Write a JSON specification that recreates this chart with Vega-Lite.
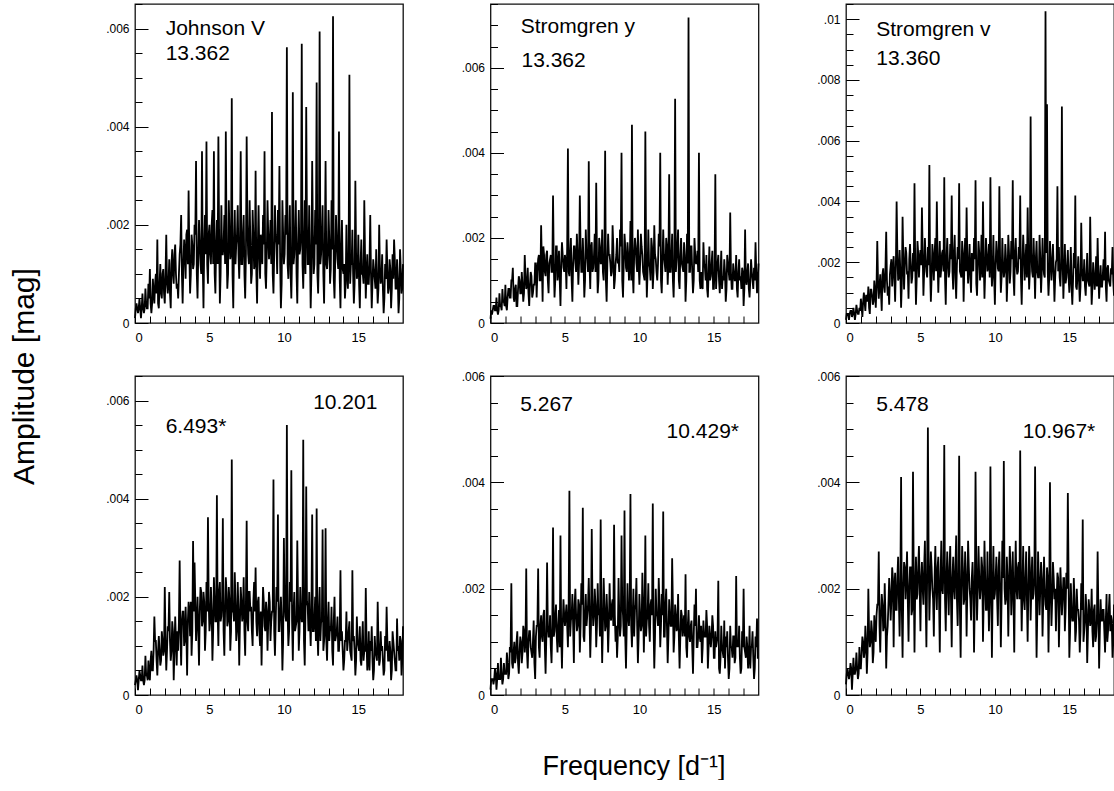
{
"$schema":"https://vega.github.io/schema/vega-lite/v6.json",
"padding":{"left":8,"top":2,"right":0,"bottom":0},
"config":{
 "font":"Liberation Sans",
 "view":{"stroke":"#111","strokeWidth":1.3},
 "axis":{"grid":false,"domain":false,"tickColor":"#000","tickWidth":1,"labelColor":"#000","labelFont":"Liberation Sans","titleFont":"Liberation Sans","titleFontWeight":"normal","titleColor":"#000"},
 "axisX":{"tickSize":-7,"labelPadding":15,"labelFontSize":13},
 "axisY":{"tickSize":-13,"labelPadding":19,"labelFontSize":12},
 "text":{"font":"Liberation Sans","fontSize":21,"color":"#000"},
 "line":{"color":"#000","strokeWidth":1.8,"clip":true}
},
"datasets":{"pg":[
{"f":0,"a1":0.0001,"a2":0.0001,"a3":0.0001,"b1":0.0002,"b2":0.0001,"b3":0.0002},
{"f":0.1,"a1":0.0004,"a2":0.0002,"a3":0.0003,"b1":0.0004,"b2":0.0003,"b3":0.0005},
{"f":0.2,"a1":0.0002,"a2":0.0004,"a3":0.0001,"b1":0.0001,"b2":0.0002,"b3":0.0003},
{"f":0.3,"a1":0.0005,"a2":0.0003,"a3":0.0004,"b1":0.0005,"b2":0.0005,"b3":0.0006},
{"f":0.4,"a1":0.0001,"a2":0.0006,"a3":0.0002,"b1":0.0003,"b2":0.0001,"b3":0.0001},
{"f":0.5,"a1":0.0006,"a2":0.0002,"a3":0.0005,"b1":0.0006,"b2":0.0006,"b3":0.0007},
{"f":0.6,"a1":0.0002,"a2":0.0007,"a3":0.0001,"b1":0.0002,"b2":0.0003,"b3":0.0004},
{"f":0.7,"a1":0.0007,"a2":0.0004,"a3":0.0006,"b1":0.0008,"b2":0.0007,"b3":0.0008},
{"f":0.8,"a1":0.0003,"a2":0.0008,"a3":0.0003,"b1":0.0004,"b2":0.0002,"b3":0.0003},
{"f":0.9,"a1":0.0008,"a2":0.0005,"a3":0.0005,"b1":0.0007,"b2":0.0006,"b3":0.0009},
{"f":1,"a1":0.0011,"a2":0.0009,"a3":0.0008,"b1":0.0003,"b2":0.0004,"b3":0.0005},
{"f":1.1,"a1":0.0002,"a2":0.0003,"a3":0.0002,"b1":0.0009,"b2":0.0008,"b3":0.0011},
{"f":1.2,"a1":0.0009,"a2":0.0008,"a3":0.001,"b1":0.0005,"b2":0.0003,"b3":0.0007},
{"f":1.3,"a1":0.0004,"a2":0.0006,"a3":0.0004,"b1":0.0016,"b2":0.0009,"b3":0.0013},
{"f":1.4,"a1":0.001,"a2":0.001,"a3":0.0009,"b1":0.0011,"b2":0.0021,"b3":0.0004},
{"f":1.5,"a1":0.0017,"a2":0.0013,"a3":0.0012,"b1":0.0004,"b2":0.0005,"b3":0.002},
{"f":1.6,"a1":0.0003,"a2":0.0005,"a3":0.0003,"b1":0.0012,"b2":0.001,"b3":0.0009},
{"f":1.7,"a1":0.0012,"a2":0.0009,"a3":0.0011,"b1":0.0006,"b2":0.0007,"b3":0.0014},
{"f":1.8,"a1":0.0005,"a2":0.0004,"a3":0.0006,"b1":0.0013,"b2":0.0012,"b3":0.0006},
{"f":1.9,"a1":0.0011,"a2":0.0011,"a3":0.0014,"b1":0.0008,"b2":0.0004,"b3":0.0015},
{"f":2,"a1":0.0004,"a2":0.0007,"a3":0.0005,"b1":0.0022,"b2":0.0011,"b3":0.001},
{"f":2.1,"a1":0.0018,"a2":0.0012,"a3":0.0027,"b1":0.0005,"b2":0.0006,"b3":0.0017},
{"f":2.2,"a1":0.0006,"a2":0.0005,"a3":0.0008,"b1":0.0014,"b2":0.0013,"b3":0.0027},
{"f":2.3,"a1":0.0013,"a2":0.0016,"a3":0.0016,"b1":0.0021,"b2":0.0008,"b3":0.0008},
{"f":2.4,"a1":0.0003,"a2":0.0008,"a3":0.0004,"b1":0.0007,"b2":0.00238,"b3":0.0019},
{"f":2.5,"a1":0.0015,"a2":0.0013,"a3":0.0018,"b1":0.0015,"b2":0.0005,"b3":0.0012},
{"f":2.6,"a1":0.0008,"a2":0.0004,"a3":0.001,"b1":0.0003,"b2":0.0012,"b3":0.0021},
{"f":2.7,"a1":0.0016,"a2":0.0012,"a3":0.003,"b1":0.0016,"b2":0.0009,"b3":0.0005},
{"f":2.8,"a1":0.0007,"a2":0.0006,"a3":0.0009,"b1":0.0006,"b2":0.0007,"b3":0.0013},
{"f":2.9,"a1":0.0005,"a2":0.0009,"a3":0.0006,"b1":0.0009,"b2":0.0014,"b3":0.0022},
{"f":3,"a1":0.0014,"a2":0.0014,"a3":0.0019,"b1":0.00274,"b2":0.0003,"b3":0.0014},
{"f":3.1,"a1":0.0022,"a2":0.0006,"a3":0.0012,"b1":0.0006,"b2":0.0013,"b3":0.0024},
{"f":3.2,"a1":0.0004,"a2":0.0015,"a3":0.0022,"b1":0.0017,"b2":0.00238,"b3":0.0009},
{"f":3.3,"a1":0.0017,"a2":0.001,"a3":0.0007,"b1":0.001,"b2":0.0007,"b3":0.0023},
{"f":3.4,"a1":0.0009,"a2":0.0023,"a3":0.004,"b1":0.0018,"b2":0.0015,"b3":0.0016},
{"f":3.5,"a1":0.0019,"a2":0.0005,"a3":0.0014,"b1":0.0004,"b2":0.001,"b3":0.0026},
{"f":3.6,"a1":0.0027,"a2":0.0016,"a3":0.0024,"b1":0.0019,"b2":0.0016,"b3":0.0011},
{"f":3.7,"a1":0.0006,"a2":0.0011,"a3":0.0005,"b1":0.0012,"b2":0.0004,"b3":0.0041},
{"f":3.8,"a1":0.0018,"a2":0.0017,"a3":0.0035,"b1":0.0008,"b2":0.00249,"b3":0.0007},
{"f":3.9,"a1":0.0011,"a2":0.0007,"a3":0.0011,"b1":0.00314,"b2":0.0011,"b3":0.0025},
{"f":4,"a1":0.002,"a2":0.0015,"a3":0.0025,"b1":0.0027,"b2":0.0015,"b3":0.0018},
{"f":4.1,"a1":0.0033,"a2":0.0012,"a3":0.0016,"b1":0.0011,"b2":0.0006,"b3":0.0027},
{"f":4.2,"a1":0.0005,"a2":0.003,"a3":0.0008,"b1":0.002,"b2":0.00315,"b3":0.001},
{"f":4.3,"a1":0.0021,"a2":0.0006,"a3":0.0026,"b1":0.0006,"b2":0.0012,"b3":0.0024},
{"f":4.4,"a1":0.0012,"a2":0.0018,"a3":0.0013,"b1":0.0022,"b2":0.0017,"b3":0.0015},
{"f":4.5,"a1":0.0035,"a2":0.001,"a3":0.0023,"b1":0.0014,"b2":0.0008,"b3":0.0042},
{"f":4.6,"a1":0.0003,"a2":0.0017,"a3":0.0046,"b1":0.0021,"b2":0.0016,"b3":0.0008},
{"f":4.7,"a1":0.0022,"a2":0.0004,"a3":0.0006,"b1":0.0009,"b2":0.003,"b3":0.0026},
{"f":4.8,"a1":0.0037,"a2":0.0019,"a3":0.0027,"b1":0.0023,"b2":0.0005,"b3":0.0019},
{"f":4.9,"a1":0.0008,"a2":0.0013,"a3":0.0015,"b1":0.00362,"b2":0.0018,"b3":0.0028},
{"f":5,"a1":0.002,"a2":0.0016,"a3":0.0024,"b1":0.0013,"b2":0.0013,"b3":0.0012},
{"f":5.1,"a1":0.0012,"a2":0.0008,"a3":0.0038,"b1":0.0022,"b2":0.0017,"b3":0.0025},
{"f":5.2,"a1":0.0023,"a2":0.0041,"a3":0.0009,"b1":0.0007,"b2":0.0009,"b3":0.0017},
{"f":5.3,"a1":0.0035,"a2":0.0011,"a3":0.0028,"b1":0.0024,"b2":0.00384,"b3":0.0029},
{"f":5.4,"a1":0.0006,"a2":0.002,"a3":0.0017,"b1":0.0015,"b2":0.0014,"b3":0.0009},
{"f":5.5,"a1":0.0021,"a2":0.0005,"a3":0.0025,"b1":0.00407,"b2":0.0019,"b3":0.00503},
{"f":5.6,"a1":0.0038,"a2":0.0018,"a3":0.0052,"b1":0.001,"b2":0.0006,"b3":0.0014},
{"f":5.7,"a1":0.0004,"a2":0.0014,"a3":0.0007,"b1":0.0023,"b2":0.002,"b3":0.0027},
{"f":5.8,"a1":0.0024,"a2":0.0021,"a3":0.0026,"b1":0.0016,"b2":0.0012,"b3":0.002},
{"f":5.9,"a1":0.0014,"a2":0.0009,"a3":0.0014,"b1":0.0036,"b2":0.0018,"b3":0.0011},
{"f":6,"a1":0.0022,"a2":0.003,"a3":0.0028,"b1":0.0008,"b2":0.0008,"b3":0.0028},
{"f":6.1,"a1":0.0039,"a2":0.0012,"a3":0.004,"b1":0.0024,"b2":0.0021,"b3":0.0016},
{"f":6.2,"a1":0.0007,"a2":0.002,"a3":0.001,"b1":0.0014,"b2":0.00352,"b3":0.0026},
{"f":6.3,"a1":0.0025,"a2":0.0006,"a3":0.0027,"b1":0.0022,"b2":0.001,"b3":0.0008},
{"f":6.4,"a1":0.0013,"a2":0.0022,"a3":0.0018,"b1":0.0009,"b2":0.0019,"b3":0.0029},
{"f":6.5,"a1":0.00458,"a2":0.0015,"a3":0.0024,"b1":0.0048,"b2":0.0015,"b3":0.0019},
{"f":6.6,"a1":0.0003,"a2":0.0038,"a3":0.0048,"b1":0.0017,"b2":0.0022,"b3":0.0047},
{"f":6.7,"a1":0.0023,"a2":0.0008,"a3":0.0006,"b1":0.0025,"b2":0.0007,"b3":0.0012},
{"f":6.8,"a1":0.0016,"a2":0.0019,"a3":0.0028,"b1":0.0011,"b2":0.00312,"b3":0.0027},
{"f":6.9,"a1":0.0024,"a2":0.0013,"a3":0.0015,"b1":0.0023,"b2":0.0013,"b3":0.0015},
{"f":7,"a1":0.0009,"a2":0.0021,"a3":0.0026,"b1":0.0006,"b2":0.002,"b3":0.0028},
{"f":7.1,"a1":0.0035,"a2":0.0033,"a3":0.0042,"b1":0.0022,"b2":0.0009,"b3":0.0009},
{"f":7.2,"a1":0.0012,"a2":0.0007,"a3":0.0011,"b1":0.0015,"b2":0.0021,"b3":0.0026},
{"f":7.3,"a1":0.0022,"a2":0.002,"a3":0.0029,"b1":0.0024,"b2":0.0016,"b3":0.0018},
{"f":7.4,"a1":0.0005,"a2":0.0014,"a3":0.0008,"b1":0.0008,"b2":0.0033,"b3":0.003},
{"f":7.5,"a1":0.0038,"a2":0.0022,"a3":0.0025,"b1":0.00355,"b2":0.0006,"b3":0.0013},
{"f":7.6,"a1":0.0014,"a2":0.001,"a3":0.0046,"b1":0.0013,"b2":0.0022,"b3":0.0045},
{"f":7.7,"a1":0.0025,"a2":0.00405,"a3":0.0016,"b1":0.0021,"b2":0.0012,"b3":0.0007},
{"f":7.8,"a1":0.0008,"a2":0.0005,"a3":0.0027,"b1":0.0018,"b2":0.0019,"b3":0.0028},
{"f":7.9,"a1":0.0023,"a2":0.0021,"a3":0.0007,"b1":0.001,"b2":0.0008,"b3":0.0017},
{"f":8,"a1":0.0011,"a2":0.0016,"a3":0.0028,"b1":0.0023,"b2":0.0021,"b3":0.0027},
{"f":8.1,"a1":0.0031,"a2":0.0011,"a3":0.0038,"b1":0.0026,"b2":0.0014,"b3":0.0011},
{"f":8.2,"a1":0.0004,"a2":0.0023,"a3":0.0013,"b1":0.0012,"b2":0.0018,"b3":0.0029},
{"f":8.3,"a1":0.0024,"a2":0.0008,"a3":0.0026,"b1":0.002,"b2":0.0032,"b3":0.002},
{"f":8.4,"a1":0.0009,"a2":0.0014,"a3":0.001,"b1":0.001,"b2":0.001,"b3":0.0014},
{"f":8.5,"a1":0.0015,"a2":0.002,"a3":0.0019,"b1":0.0006,"b2":0.0007,"b3":0.0025},
{"f":8.6,"a1":0.0022,"a2":0.0015,"a3":0.0028,"b1":0.0022,"b2":0.0022,"b3":0.0008},
{"f":8.7,"a1":0.0035,"a2":0.0022,"a3":0.0047,"b1":0.0014,"b2":0.0011,"b3":0.0042},
{"f":8.8,"a1":0.0007,"a2":0.004,"a3":0.0009,"b1":0.0019,"b2":0.003,"b3":0.0014},
{"f":8.9,"a1":0.0025,"a2":0.0006,"a3":0.0027,"b1":0.0009,"b2":0.0015,"b3":0.0028},
{"f":9,"a1":0.0013,"a2":0.0021,"a3":0.0014,"b1":0.0021,"b2":0.00347,"b3":0.0018},
{"f":9.1,"a1":0.0021,"a2":0.0013,"a3":0.0029,"b1":0.0011,"b2":0.0005,"b3":0.0026},
{"f":9.2,"a1":0.0043,"a2":0.0019,"a3":0.004,"b1":0.0017,"b2":0.0021,"b3":0.001},
{"f":9.3,"a1":0.0006,"a2":0.001,"a3":0.0008,"b1":0.00439,"b2":0.0013,"b3":0.0029},
{"f":9.4,"a1":0.0024,"a2":0.0024,"a3":0.0028,"b1":0.0008,"b2":0.00378,"b3":0.0016},
{"f":9.5,"a1":0.0016,"a2":0.00466,"a3":0.0017,"b1":0.0022,"b2":0.0009,"b3":0.0027},
{"f":9.6,"a1":0.0023,"a2":0.0007,"a3":0.0026,"b1":0.00368,"b2":0.002,"b3":0.0012},
{"f":9.7,"a1":0.0032,"a2":0.002,"a3":0.0048,"b1":0.0013,"b2":0.0016,"b3":0.0043},
{"f":9.8,"a1":0.0003,"a2":0.0014,"a3":0.0012,"b1":0.002,"b2":0.0022,"b3":0.0007},
{"f":9.9,"a1":0.0025,"a2":0.0022,"a3":0.0029,"b1":0.0005,"b2":0.0006,"b3":0.0028},
{"f":10,"a1":0.0012,"a2":0.0009,"a3":0.0006,"b1":0.0032,"b2":0.0019,"b3":0.0019},
{"f":10.1,"a1":0.0022,"a2":0.0021,"a3":0.0027,"b1":0.0016,"b2":0.0012,"b3":0.0026},
{"f":10.2,"a1":0.00562,"a2":0.0016,"a3":0.0018,"b1":0.0055,"b2":0.0023,"b3":0.0013},
{"f":10.3,"a1":0.0009,"a2":0.0011,"a3":0.0045,"b1":0.001,"b2":0.0008,"b3":0.0027},
{"f":10.4,"a1":0.0024,"a2":0.0045,"a3":0.001,"b1":0.0023,"b2":0.003,"b3":0.0009},
{"f":10.5,"a1":0.0005,"a2":0.0006,"a3":0.0028,"b1":0.00458,"b2":0.0014,"b3":0.0029},
{"f":10.6,"a1":0.0047,"a2":0.0022,"a3":0.0015,"b1":0.0007,"b2":0.0021,"b3":0.0044},
{"f":10.7,"a1":0.0014,"a2":0.0013,"a3":0.0026,"b1":0.0021,"b2":0.001,"b3":0.0017},
{"f":10.8,"a1":0.0025,"a2":0.002,"a3":0.0007,"b1":0.0014,"b2":0.0018,"b3":0.0026},
{"f":10.9,"a1":0.0004,"a2":0.0008,"a3":0.0029,"b1":0.00315,"b2":0.0036,"b3":0.0011},
{"f":11,"a1":0.0023,"a2":0.0023,"a3":0.0013,"b1":0.0009,"b2":0.0005,"b3":0.0028},
{"f":11.1,"a1":0.0015,"a2":0.0015,"a3":0.0027,"b1":0.0022,"b2":0.002,"b3":0.0015},
{"f":11.2,"a1":0.00569,"a2":0.001,"a3":0.0047,"b1":0.0015,"b2":0.0015,"b3":0.0027},
{"f":11.3,"a1":0.0007,"a2":0.0021,"a3":0.0009,"b1":0.0052,"b2":0.0022,"b3":0.0008},
{"f":11.4,"a1":0.0025,"a2":0.004,"a3":0.0028,"b1":0.0006,"b2":0.0009,"b3":0.0029},
{"f":11.5,"a1":0.0044,"a2":0.0007,"a3":0.0016,"b1":0.00425,"b2":0.0019,"b3":0.0018},
{"f":11.6,"a1":0.0012,"a2":0.0022,"a3":0.0025,"b1":0.0018,"b2":0.00345,"b3":0.0025},
{"f":11.7,"a1":0.0024,"a2":0.0014,"a3":0.0042,"b1":0.0021,"b2":0.0011,"b3":0.0046},
{"f":11.8,"a1":0.0003,"a2":0.002,"a3":0.0006,"b1":0.001,"b2":0.002,"b3":0.0012},
{"f":11.9,"a1":0.0033,"a2":0.0009,"a3":0.0029,"b1":0.00368,"b2":0.0006,"b3":0.0028},
{"f":12,"a1":0.001,"a2":0.0035,"a3":0.0014,"b1":0.0013,"b2":0.0018,"b3":0.0016},
{"f":12.1,"a1":0.0023,"a2":0.0012,"a3":0.0026,"b1":0.002,"b2":0.0013,"b3":0.0027},
{"f":12.2,"a1":0.0049,"a2":0.0021,"a3":0.0038,"b1":0.0038,"b2":0.00257,"b3":0.001},
{"f":12.3,"a1":0.0006,"a2":0.0006,"a3":0.0011,"b1":0.0008,"b2":0.0008,"b3":0.0028},
{"f":12.4,"a1":0.00594,"a2":0.00527,"a3":0.0068,"b1":0.0022,"b2":0.0017,"b3":0.0014},
{"f":12.5,"a1":0.0014,"a2":0.0015,"a3":0.0017,"b1":0.0015,"b2":0.0012,"b3":0.0026},
{"f":12.6,"a1":0.0024,"a2":0.0022,"a3":0.0028,"b1":0.00337,"b2":0.0019,"b3":0.0019},
{"f":12.7,"a1":0.0004,"a2":0.0008,"a3":0.0008,"b1":0.0011,"b2":0.0005,"b3":0.0043},
{"f":12.8,"a1":0.0033,"a2":0.002,"a3":0.0027,"b1":0.0034,"b2":0.0016,"b3":0.0007},
{"f":12.9,"a1":0.0011,"a2":0.0013,"a3":0.0015,"b1":0.0007,"b2":0.0011,"b3":0.0027},
{"f":13,"a1":0.0023,"a2":0.0019,"a3":0.0029,"b1":0.0019,"b2":0.0015,"b3":0.0015},
{"f":13.1,"a1":0.0008,"a2":0.0005,"a3":0.001,"b1":0.0014,"b2":0.00227,"b3":0.0025},
{"f":13.2,"a1":0.0025,"a2":0.0021,"a3":0.0028,"b1":0.0018,"b2":0.0007,"b3":0.0011},
{"f":13.3,"a1":0.00625,"a2":0.00718,"a3":0.0016,"b1":0.0006,"b2":0.0016,"b3":0.0026},
{"f":13.4,"a1":0.0005,"a2":0.0012,"a3":0.01026,"b1":0.002,"b2":0.001,"b3":0.0017},
{"f":13.5,"a1":0.0022,"a2":0.0018,"a3":0.0072,"b1":0.0012,"b2":0.0014,"b3":0.0024},
{"f":13.6,"a1":0.0013,"a2":0.0007,"a3":0.0009,"b1":0.0016,"b2":0.0004,"b3":0.0008},
{"f":13.7,"a1":0.0039,"a2":0.002,"a3":0.0027,"b1":0.0009,"b2":0.0017,"b3":0.004},
{"f":13.8,"a1":0.0003,"a2":0.0014,"a3":0.0014,"b1":0.00254,"b2":0.002,"b3":0.0013},
{"f":13.9,"a1":0.0021,"a2":0.0017,"a3":0.0026,"b1":0.0013,"b2":0.0009,"b3":0.0025},
{"f":14,"a1":0.001,"a2":0.004,"a3":0.0007,"b1":0.0005,"b2":0.0015,"b3":0.0018},
{"f":14.1,"a1":0.0005,"a2":0.0008,"a3":0.002,"b1":0.0011,"b2":0.001,"b3":0.0012},
{"f":14.2,"a1":0.002,"a2":0.0009,"a3":0.0045,"b1":0.0017,"b2":0.0006,"b3":0.0023},
{"f":14.3,"a1":0.0007,"a2":0.0019,"a3":0.0025,"b1":0.0011,"b2":0.0014,"b3":0.0009},
{"f":14.4,"a1":0.00506,"a2":0.0013,"a3":0.0012,"b1":0.0015,"b2":0.0011,"b3":0.0024},
{"f":14.5,"a1":0.0012,"a2":0.0016,"a3":0.00713,"b1":0.0008,"b2":0.0016,"b3":0.0015},
{"f":14.6,"a1":0.0019,"a2":0.0006,"a3":0.0008,"b1":0.00254,"b2":0.0005,"b3":0.0022},
{"f":14.7,"a1":0.0004,"a2":0.0018,"a3":0.0026,"b1":0.0012,"b2":0.0013,"b3":0.0012},
{"f":14.8,"a1":0.0029,"a2":0.0011,"a3":0.0015,"b1":0.0004,"b2":0.0009,"b3":0.0023},
{"f":14.9,"a1":0.0009,"a2":0.0017,"a3":0.0024,"b1":0.0016,"b2":0.0015,"b3":0.0038},
{"f":15,"a1":0.0018,"a2":0.0008,"a3":0.001,"b1":0.001,"b2":0.0007,"b3":0.0007},
{"f":15.1,"a1":0.0003,"a2":0.0035,"a3":0.0025,"b1":0.0014,"b2":0.0012,"b3":0.0021},
{"f":15.2,"a1":0.0017,"a2":0.0012,"a3":0.0006,"b1":0.0006,"b2":0.001,"b3":0.0014},
{"f":15.3,"a1":0.001,"a2":0.0016,"a3":0.0023,"b1":0.0015,"b2":0.00215,"b3":0.0022},
{"f":15.4,"a1":0.0025,"a2":0.0007,"a3":0.0042,"b1":0.0009,"b2":0.0004,"b3":0.001},
{"f":15.5,"a1":0.0005,"a2":0.0017,"a3":0.0011,"b1":0.00218,"b2":0.0013,"b3":0.002},
{"f":15.6,"a1":0.0014,"a2":0.0011,"a3":0.0022,"b1":0.0005,"b2":0.0008,"b3":0.0016},
{"f":15.7,"a1":0.0008,"a2":0.0015,"a3":0.0007,"b1":0.0013,"b2":0.0014,"b3":0.0008},
{"f":15.8,"a1":0.0022,"a2":0.0005,"a3":0.0033,"b1":0.0011,"b2":0.0011,"b3":0.0021},
{"f":15.9,"a1":0.0003,"a2":0.0016,"a3":0.0014,"b1":0.0014,"b2":0.0012,"b3":0.0033},
{"f":16,"a1":0.0013,"a2":0.0012,"a3":0.0021,"b1":0.0003,"b2":0.0003,"b3":0.0012},
{"f":16.1,"a1":0.0009,"a2":0.0026,"a3":0.0009,"b1":0.0012,"b2":0.0013,"b3":0.0019},
{"f":16.2,"a1":0.0015,"a2":0.0008,"a3":0.0023,"b1":0.0008,"b2":0.0009,"b3":0.0006},
{"f":16.3,"a1":0.0004,"a2":0.0014,"a3":0.0013,"b1":0.0019,"b2":0.0011,"b3":0.0018},
{"f":16.4,"a1":0.002,"a2":0.001,"a3":0.0035,"b1":0.0006,"b2":0.0006,"b3":0.0013},
{"f":16.5,"a1":0.0008,"a2":0.0016,"a3":0.0006,"b1":0.0013,"b2":0.00224,"b3":0.002},
{"f":16.6,"a1":0.0014,"a2":0.0006,"a3":0.002,"b1":0.001,"b2":0.001,"b3":0.0009},
{"f":16.7,"a1":0.0002,"a2":0.0015,"a3":0.0011,"b1":0.0004,"b2":0.0013,"b3":0.0017},
{"f":16.8,"a1":0.0012,"a2":0.0011,"a3":0.0022,"b1":0.0012,"b2":0.0004,"b3":0.0011},
{"f":16.9,"a1":0.0017,"a2":0.0013,"a3":0.0028,"b1":0.0018,"b2":0.0012,"b3":0.0027},
{"f":17,"a1":0.0006,"a2":0.0004,"a3":0.0008,"b1":0.0007,"b2":0.002,"b3":0.0005},
{"f":17.1,"a1":0.0013,"a2":0.0022,"a3":0.0019,"b1":0.0011,"b2":0.0008,"b3":0.0018},
{"f":17.2,"a1":0.0003,"a2":0.0009,"a3":0.0012,"b1":0.0003,"b2":0.0011,"b3":0.0014},
{"f":17.3,"a1":0.0014,"a2":0.0014,"a3":0.0021,"b1":0.0013,"b2":0.0005,"b3":0.0016},
{"f":17.4,"a1":0.0017,"a2":0.0006,"a3":0.003,"b1":0.0009,"b2":0.0013,"b3":0.0008},
{"f":17.5,"a1":0.0007,"a2":0.0015,"a3":0.0007,"b1":0.0005,"b2":0.0009,"b3":0.0019},
{"f":17.6,"a1":0.0013,"a2":0.001,"a3":0.0019,"b1":0.00156,"b2":0.0012,"b3":0.0012},
{"f":17.7,"a1":0.0002,"a2":0.0013,"a3":0.0013,"b1":0.001,"b2":0.0003,"b3":0.0019},
{"f":17.8,"a1":0.0015,"a2":0.0019,"a3":0.0018,"b1":0.0012,"b2":0.0011,"b3":0.0015},
{"f":17.9,"a1":0.0006,"a2":0.0007,"a3":0.0025,"b1":0.0004,"b2":0.00144,"b3":0.0007},
{"f":18,"a1":0.0012,"a2":0.0014,"a3":0.0009,"b1":0.0014,"b2":0.0007,"b3":0.0017},
{"f":0.05,"a1":0.0003,"a2":0.0003,"a3":0.0003,"b1":0.0003,"b2":0.0003,"b3":0.0004},
{"f":0.15,"a1":0.0003,"a2":0.0003,"a3":0.0003,"b1":0.0003,"b2":0.0003,"b3":0.0004},
{"f":0.25,"a1":0.0003,"a2":0.0004,"a3":0.0003,"b1":0.0003,"b2":0.0003,"b3":0.0004},
{"f":0.35,"a1":0.0003,"a2":0.0003,"a3":0.0004,"b1":0.0004,"b2":0.0004,"b3":0.0005},
{"f":0.45,"a1":0.0003,"a2":0.0003,"a3":0.0003,"b1":0.0003,"b2":0.0003,"b3":0.0004},
{"f":0.55,"a1":0.0003,"a2":0.0003,"a3":0.0003,"b1":0.0003,"b2":0.0003,"b3":0.0004},
{"f":0.65,"a1":0.0003,"a2":0.0004,"a3":0.0003,"b1":0.0003,"b2":0.0003,"b3":0.0005},
{"f":0.75,"a1":0.0004,"a2":0.0003,"a3":0.0004,"b1":0.0004,"b2":0.0004,"b3":0.0005},
{"f":0.85,"a1":0.0003,"a2":0.0005,"a3":0.0003,"b1":0.0003,"b2":0.0003,"b3":0.0004},
{"f":0.95,"a1":0.0005,"a2":0.0004,"a3":0.0004,"b1":0.0004,"b2":0.0004,"b3":0.0005},
{"f":1.05,"a1":0.0004,"a2":0.0004,"a3":0.0005,"b1":0.0007,"b2":0.0004,"b3":0.0008},
{"f":1.15,"a1":0.0004,"a2":0.0006,"a3":0.0007,"b1":0.0005,"b2":0.0006,"b3":0.001},
{"f":1.25,"a1":0.0006,"a2":0.0008,"a3":0.0007,"b1":0.0009,"b2":0.0004,"b3":0.0008},
{"f":1.35,"a1":0.0008,"a2":0.0006,"a3":0.0009,"b1":0.0011,"b2":0.0008,"b3":0.001},
{"f":1.45,"a1":0.0006,"a2":0.001,"a3":0.0007,"b1":0.0007,"b2":0.0006,"b3":0.0008},
{"f":1.55,"a1":0.0004,"a2":0.0006,"a3":0.0005,"b1":0.0009,"b2":0.0008,"b3":0.0012},
{"f":1.65,"a1":0.0008,"a2":0.0008,"a3":0.0011,"b1":0.0009,"b2":0.0006,"b3":0.001},
{"f":1.75,"a1":0.0006,"a2":0.0004,"a3":0.0009,"b1":0.0007,"b2":0.001,"b3":0.0012},
{"f":1.85,"a1":0.001,"a2":0.0008,"a3":0.0007,"b1":0.0011,"b2":0.0006,"b3":0.0008},
{"f":1.95,"a1":0.0006,"a2":0.001,"a3":0.0011,"b1":0.0009,"b2":0.0008,"b3":0.0012},
{"f":2.05,"a1":0.001,"a2":0.0007,"a3":0.0012,"b1":0.0011,"b2":0.001,"b3":0.0015},
{"f":2.15,"a1":0.0008,"a2":0.0009,"a3":0.0014,"b1":0.0009,"b2":0.0008,"b3":0.0017},
{"f":2.25,"a1":0.0008,"a2":0.0007,"a3":0.0012,"b1":0.0013,"b2":0.0012,"b3":0.0013},
{"f":2.35,"a1":0.0006,"a2":0.0011,"a3":0.001,"b1":0.0011,"b2":0.001,"b3":0.0015},
{"f":2.45,"a1":0.0012,"a2":0.0009,"a3":0.0016,"b1":0.0009,"b2":0.0008,"b3":0.0017},
{"f":2.55,"a1":0.001,"a2":0.0007,"a3":0.0012,"b1":0.0013,"b2":0.001,"b3":0.0013},
{"f":2.65,"a1":0.0014,"a2":0.0009,"a3":0.0018,"b1":0.0009,"b2":0.0012,"b3":0.0015},
{"f":2.75,"a1":0.001,"a2":0.0011,"a3":0.0014,"b1":0.0011,"b2":0.0008,"b3":0.0011},
{"f":2.85,"a1":0.0008,"a2":0.0007,"a3":0.0012,"b1":0.0013,"b2":0.001,"b3":0.0017},
{"f":2.95,"a1":0.001,"a2":0.0009,"a3":0.0016,"b1":0.0015,"b2":0.0006,"b3":0.0019},
{"f":3.05,"a1":0.0016,"a2":0.0014,"a3":0.0021,"b1":0.0013,"b2":0.0011,"b3":0.0018},
{"f":3.15,"a1":0.001,"a2":0.0012,"a3":0.0017,"b1":0.0015,"b2":0.0013,"b3":0.0022},
{"f":3.25,"a1":0.0012,"a2":0.0016,"a3":0.0015,"b1":0.0017,"b2":0.0009,"b3":0.002},
{"f":3.35,"a1":0.0014,"a2":0.001,"a3":0.0019,"b1":0.0011,"b2":0.0013,"b3":0.0016},
{"f":3.45,"a1":0.0018,"a2":0.0014,"a3":0.0023,"b1":0.0013,"b2":0.0011,"b3":0.0022},
{"f":3.55,"a1":0.0012,"a2":0.0018,"a3":0.0015,"b1":0.0015,"b2":0.0015,"b3":0.0018},
{"f":3.65,"a1":0.0014,"a2":0.0012,"a3":0.0017,"b1":0.0017,"b2":0.0009,"b3":0.002},
{"f":3.75,"a1":0.001,"a2":0.0016,"a3":0.0013,"b1":0.0019,"b2":0.0011,"b3":0.0016},
{"f":3.85,"a1":0.0016,"a2":0.001,"a3":0.0021,"b1":0.0013,"b2":0.0013,"b3":0.002},
{"f":3.95,"a1":0.0012,"a2":0.0014,"a3":0.0019,"b1":0.0017,"b2":0.0011,"b3":0.0024},
{"f":4.05,"a1":0.0018,"a2":0.0016,"a3":0.0023,"b1":0.0019,"b2":0.0009,"b3":0.0022},
{"f":4.15,"a1":0.001,"a2":0.0012,"a3":0.0017,"b1":0.0015,"b2":0.0013,"b3":0.0018},
{"f":4.25,"a1":0.0014,"a2":0.0014,"a3":0.0021,"b1":0.0013,"b2":0.0011,"b3":0.002},
{"f":4.35,"a1":0.0016,"a2":0.001,"a3":0.0019,"b1":0.0017,"b2":0.0015,"b3":0.0024},
{"f":4.45,"a1":0.001,"a2":0.0018,"a3":0.0015,"b1":0.0021,"b2":0.0011,"b3":0.0016},
{"f":4.55,"a1":0.0012,"a2":0.0012,"a3":0.0017,"b1":0.0015,"b2":0.0013,"b3":0.0022},
{"f":4.65,"a1":0.0016,"a2":0.001,"a3":0.0019,"b1":0.0019,"b2":0.0009,"b3":0.002},
{"f":4.75,"a1":0.0014,"a2":0.0014,"a3":0.0015,"b1":0.0013,"b2":0.0011,"b3":0.0018},
{"f":4.85,"a1":0.0012,"a2":0.0016,"a3":0.0023,"b1":0.0017,"b2":0.0013,"b3":0.0024},
{"f":4.95,"a1":0.0018,"a2":0.0012,"a3":0.0021,"b1":0.0019,"b2":0.0015,"b3":0.002},
{"f":5.05,"a1":0.0014,"a2":0.0014,"a3":0.0019,"b1":0.0015,"b2":0.0015,"b3":0.0022},
{"f":5.15,"a1":0.002,"a2":0.0018,"a3":0.0023,"b1":0.0017,"b2":0.0013,"b3":0.002},
{"f":5.25,"a1":0.0012,"a2":0.0012,"a3":0.0017,"b1":0.0013,"b2":0.0017,"b3":0.0024},
{"f":5.35,"a1":0.001,"a2":0.0016,"a3":0.0021,"b1":0.0019,"b2":0.0011,"b3":0.0018},
{"f":5.45,"a1":0.0016,"a2":0.001,"a3":0.0015,"b1":0.0015,"b2":0.0015,"b3":0.0022},
{"f":5.55,"a1":0.0012,"a2":0.0014,"a3":0.0019,"b1":0.0017,"b2":0.0013,"b3":0.0026},
{"f":5.65,"a1":0.0018,"a2":0.0018,"a3":0.0017,"b1":0.0021,"b2":0.0017,"b3":0.002},
{"f":5.75,"a1":0.001,"a2":0.0012,"a3":0.0015,"b1":0.0015,"b2":0.0015,"b3":0.0024},
{"f":5.85,"a1":0.0014,"a2":0.0016,"a3":0.0021,"b1":0.0019,"b2":0.0013,"b3":0.0018},
{"f":5.95,"a1":0.0016,"a2":0.0014,"a3":0.0023,"b1":0.0013,"b2":0.0017,"b3":0.0022},
{"f":6.05,"a1":0.0012,"a2":0.0018,"a3":0.0017,"b1":0.0017,"b2":0.0013,"b3":0.002},
{"f":6.15,"a1":0.0016,"a2":0.0012,"a3":0.0021,"b1":0.0021,"b2":0.0017,"b3":0.0024},
{"f":6.25,"a1":0.001,"a2":0.0014,"a3":0.0019,"b1":0.0015,"b2":0.0011,"b3":0.0018},
{"f":6.35,"a1":0.0018,"a2":0.001,"a3":0.0015,"b1":0.0019,"b2":0.0015,"b3":0.0022},
{"f":6.45,"a1":0.0014,"a2":0.0016,"a3":0.0023,"b1":0.0013,"b2":0.0013,"b3":0.002},
{"f":6.55,"a1":0.001,"a2":0.0012,"a3":0.0017,"b1":0.0017,"b2":0.0017,"b3":0.0024},
{"f":6.65,"a1":0.0016,"a2":0.0014,"a3":0.0015,"b1":0.0015,"b2":0.0015,"b3":0.0018},
{"f":6.75,"a1":0.0012,"a2":0.0018,"a3":0.0021,"b1":0.0019,"b2":0.0013,"b3":0.0022},
{"f":6.85,"a1":0.0018,"a2":0.0012,"a3":0.0019,"b1":0.0013,"b2":0.0017,"b3":0.002},
{"f":6.95,"a1":0.0014,"a2":0.0016,"a3":0.0017,"b1":0.0017,"b2":0.0015,"b3":0.0024},
{"f":7.05,"a1":0.0016,"a2":0.0012,"a3":0.0021,"b1":0.0015,"b2":0.0017,"b3":0.0018},
{"f":7.15,"a1":0.0012,"a2":0.0016,"a3":0.0017,"b1":0.0019,"b2":0.0013,"b3":0.0022},
{"f":7.25,"a1":0.0018,"a2":0.001,"a3":0.0023,"b1":0.0017,"b2":0.0015,"b3":0.002},
{"f":7.35,"a1":0.001,"a2":0.0018,"a3":0.0015,"b1":0.0013,"b2":0.0011,"b3":0.0024},
{"f":7.45,"a1":0.0014,"a2":0.0014,"a3":0.0019,"b1":0.0019,"b2":0.0015,"b3":0.0018},
{"f":7.55,"a1":0.002,"a2":0.0012,"a3":0.0021,"b1":0.0015,"b2":0.0013,"b3":0.0022},
{"f":7.65,"a1":0.0012,"a2":0.0016,"a3":0.0017,"b1":0.0021,"b2":0.0017,"b3":0.0016},
{"f":7.75,"a1":0.0016,"a2":0.001,"a3":0.0015,"b1":0.0017,"b2":0.0013,"b3":0.002},
{"f":7.85,"a1":0.001,"a2":0.0014,"a3":0.0023,"b1":0.0013,"b2":0.0015,"b3":0.0024},
{"f":7.95,"a1":0.0018,"a2":0.0016,"a3":0.0019,"b1":0.0019,"b2":0.0013,"b3":0.0018},
{"f":8.05,"a1":0.0012,"a2":0.0014,"a3":0.0017,"b1":0.0017,"b2":0.0015,"b3":0.0022},
{"f":8.15,"a1":0.001,"a2":0.0012,"a3":0.0021,"b1":0.0015,"b2":0.0017,"b3":0.002},
{"f":8.25,"a1":0.0016,"a2":0.0018,"a3":0.0019,"b1":0.0019,"b2":0.0013,"b3":0.0024},
{"f":8.35,"a1":0.0014,"a2":0.001,"a3":0.0015,"b1":0.0013,"b2":0.0015,"b3":0.0018},
{"f":8.45,"a1":0.0018,"a2":0.0016,"a3":0.0023,"b1":0.0017,"b2":0.0013,"b3":0.0022},
{"f":8.55,"a1":0.0012,"a2":0.0014,"a3":0.0017,"b1":0.0015,"b2":0.0011,"b3":0.002},
{"f":8.65,"a1":0.0016,"a2":0.0012,"a3":0.0021,"b1":0.0019,"b2":0.0015,"b3":0.0018},
{"f":8.75,"a1":0.001,"a2":0.0018,"a3":0.0013,"b1":0.0013,"b2":0.0013,"b3":0.0024},
{"f":8.85,"a1":0.0014,"a2":0.001,"a3":0.0019,"b1":0.0017,"b2":0.0017,"b3":0.002},
{"f":8.95,"a1":0.0018,"a2":0.0014,"a3":0.0023,"b1":0.0015,"b2":0.0011,"b3":0.0022},
{"f":9.05,"a1":0.0016,"a2":0.0018,"a3":0.0019,"b1":0.0019,"b2":0.0011,"b3":0.002},
{"f":9.15,"a1":0.0012,"a2":0.0012,"a3":0.0015,"b1":0.0015,"b2":0.0013,"b3":0.0024},
{"f":9.25,"a1":0.001,"a2":0.0016,"a3":0.0021,"b1":0.0017,"b2":0.0015,"b3":0.0018},
{"f":9.35,"a1":0.0014,"a2":0.0014,"a3":0.0017,"b1":0.0013,"b2":0.0017,"b3":0.0022},
{"f":9.45,"a1":0.0018,"a2":0.001,"a3":0.0023,"b1":0.0015,"b2":0.0013,"b3":0.0016},
{"f":9.55,"a1":0.001,"a2":0.0012,"a3":0.0019,"b1":0.0019,"b2":0.0015,"b3":0.002},
{"f":9.65,"a1":0.0016,"a2":0.0016,"a3":0.0015,"b1":0.0013,"b2":0.0011,"b3":0.0018},
{"f":9.75,"a1":0.0012,"a2":0.0018,"a3":0.0021,"b1":0.0017,"b2":0.0017,"b3":0.0022},
{"f":9.85,"a1":0.0008,"a2":0.0012,"a3":0.0017,"b1":0.0015,"b2":0.0013,"b3":0.002},
{"f":9.95,"a1":0.0018,"a2":0.0014,"a3":0.0015,"b1":0.0011,"b2":0.0011,"b3":0.0018},
{"f":10.05,"a1":0.0014,"a2":0.0014,"a3":0.0019,"b1":0.0019,"b2":0.0015,"b3":0.0022},
{"f":10.15,"a1":0.0018,"a2":0.0018,"a3":0.0023,"b1":0.0015,"b2":0.0013,"b3":0.0018},
{"f":10.25,"a1":0.0012,"a2":0.0012,"a3":0.0017,"b1":0.0017,"b2":0.0017,"b3":0.0024},
{"f":10.35,"a1":0.0016,"a2":0.001,"a3":0.0021,"b1":0.0013,"b2":0.0015,"b3":0.002},
{"f":10.45,"a1":0.001,"a2":0.0016,"a3":0.0015,"b1":0.0019,"b2":0.0011,"b3":0.0018},
{"f":10.55,"a1":0.0014,"a2":0.0012,"a3":0.0019,"b1":0.0015,"b2":0.0015,"b3":0.0022},
{"f":10.65,"a1":0.0012,"a2":0.0014,"a3":0.0017,"b1":0.0017,"b2":0.0013,"b3":0.002},
{"f":10.75,"a1":0.0018,"a2":0.001,"a3":0.0021,"b1":0.0013,"b2":0.0017,"b3":0.0018},
{"f":10.85,"a1":0.001,"a2":0.0018,"a3":0.0015,"b1":0.0015,"b2":0.0015,"b3":0.0022},
{"f":10.95,"a1":0.0016,"a2":0.0012,"a3":0.0023,"b1":0.0019,"b2":0.0013,"b3":0.002},
{"f":11.05,"a1":0.0014,"a2":0.0016,"a3":0.0017,"b1":0.0013,"b2":0.0011,"b3":0.0024},
{"f":11.15,"a1":0.0018,"a2":0.0012,"a3":0.0021,"b1":0.0017,"b2":0.0015,"b3":0.002},
{"f":11.25,"a1":0.0012,"a2":0.0014,"a3":0.0015,"b1":0.0015,"b2":0.0013,"b3":0.0018},
{"f":11.35,"a1":0.0016,"a2":0.0018,"a3":0.0023,"b1":0.0011,"b2":0.0017,"b3":0.0022},
{"f":11.45,"a1":0.001,"a2":0.001,"a3":0.0019,"b1":0.0017,"b2":0.0013,"b3":0.002},
{"f":11.55,"a1":0.002,"a2":0.0014,"a3":0.0017,"b1":0.0019,"b2":0.0015,"b3":0.0024},
{"f":11.65,"a1":0.0012,"a2":0.0016,"a3":0.0021,"b1":0.0013,"b2":0.0011,"b3":0.0018},
{"f":11.75,"a1":0.0014,"a2":0.0012,"a3":0.0015,"b1":0.0015,"b2":0.0017,"b3":0.0022},
{"f":11.85,"a1":0.001,"a2":0.0018,"a3":0.0019,"b1":0.0017,"b2":0.0013,"b3":0.002},
{"f":11.95,"a1":0.0018,"a2":0.0014,"a3":0.0023,"b1":0.0013,"b2":0.0011,"b3":0.0018},
{"f":12.05,"a1":0.0012,"a2":0.0012,"a3":0.0019,"b1":0.0015,"b2":0.0015,"b3":0.0022},
{"f":12.15,"a1":0.0016,"a2":0.0016,"a3":0.0015,"b1":0.0011,"b2":0.0013,"b3":0.0018},
{"f":12.25,"a1":0.001,"a2":0.001,"a3":0.0021,"b1":0.0013,"b2":0.0017,"b3":0.002},
{"f":12.35,"a1":0.0014,"a2":0.0014,"a3":0.0017,"b1":0.0017,"b2":0.0011,"b3":0.0024},
{"f":12.45,"a1":0.0012,"a2":0.0012,"a3":0.0023,"b1":0.0011,"b2":0.0015,"b3":0.002},
{"f":12.55,"a1":0.0018,"a2":0.0018,"a3":0.0015,"b1":0.0015,"b2":0.0013,"b3":0.0018},
{"f":12.65,"a1":0.001,"a2":0.001,"a3":0.0019,"b1":0.0009,"b2":0.0011,"b3":0.0022},
{"f":12.75,"a1":0.0016,"a2":0.0016,"a3":0.0021,"b1":0.0013,"b2":0.0011,"b3":0.002},
{"f":12.85,"a1":0.0012,"a2":0.0014,"a3":0.0017,"b1":0.0011,"b2":0.0015,"b3":0.0016},
{"f":12.95,"a1":0.0014,"a2":0.0012,"a3":0.0015,"b1":0.0015,"b2":0.0013,"b3":0.0022},
{"f":13.05,"a1":0.0017,"a2":0.0016,"a3":0.0021,"b1":0.0011,"b2":0.0011,"b3":0.002},
{"f":13.15,"a1":0.0011,"a2":0.001,"a3":0.0017,"b1":0.0013,"b2":0.0009,"b3":0.0022},
{"f":13.25,"a1":0.0015,"a2":0.0014,"a3":0.0019,"b1":0.0009,"b2":0.0013,"b3":0.0018},
{"f":13.35,"a1":0.0009,"a2":0.0012,"a3":0.0015,"b1":0.0015,"b2":0.0011,"b3":0.002},
{"f":13.45,"a1":0.0013,"a2":0.0018,"a3":0.0023,"b1":0.0011,"b2":0.0013,"b3":0.0016},
{"f":13.55,"a1":0.0017,"a2":0.0012,"a3":0.0017,"b1":0.0013,"b2":0.0009,"b3":0.0022},
{"f":13.65,"a1":0.0011,"a2":0.001,"a3":0.0015,"b1":0.0009,"b2":0.0011,"b3":0.0018},
{"f":13.75,"a1":0.0009,"a2":0.0016,"a3":0.0021,"b1":0.0013,"b2":0.0013,"b3":0.002},
{"f":13.85,"a1":0.0015,"a2":0.0014,"a3":0.0019,"b1":0.0011,"b2":0.0009,"b3":0.0018},
{"f":13.95,"a1":0.0011,"a2":0.0012,"a3":0.0017,"b1":0.0009,"b2":0.0011,"b3":0.0022},
{"f":14.05,"a1":0.0012,"a2":0.001,"a3":0.0015,"b1":0.0007,"b2":0.0011,"b3":0.002},
{"f":14.15,"a1":0.0008,"a2":0.0012,"a3":0.0021,"b1":0.0011,"b2":0.0013,"b3":0.0018},
{"f":14.25,"a1":0.001,"a2":0.0008,"a3":0.0017,"b1":0.0009,"b2":0.0009,"b3":0.0022},
{"f":14.35,"a1":0.0014,"a2":0.0014,"a3":0.0015,"b1":0.0013,"b2":0.0011,"b3":0.0016},
{"f":14.45,"a1":0.0008,"a2":0.001,"a3":0.0019,"b1":0.0009,"b2":0.0011,"b3":0.002},
{"f":14.55,"a1":0.0012,"a2":0.0008,"a3":0.0021,"b1":0.0007,"b2":0.0013,"b3":0.0018},
{"f":14.65,"a1":0.001,"a2":0.0012,"a3":0.0017,"b1":0.0011,"b2":0.0009,"b3":0.0022},
{"f":14.75,"a1":0.0008,"a2":0.001,"a3":0.0013,"b1":0.0009,"b2":0.0011,"b3":0.0016},
{"f":14.85,"a1":0.0014,"a2":0.0014,"a3":0.0019,"b1":0.0007,"b2":0.0011,"b3":0.002},
{"f":14.95,"a1":0.001,"a2":0.0008,"a3":0.0015,"b1":0.0011,"b2":0.0013,"b3":0.0022},
{"f":15.05,"a1":0.0008,"a2":0.0012,"a3":0.0016,"b1":0.0009,"b2":0.0007,"b3":0.0012},
{"f":15.15,"a1":0.0012,"a2":0.0008,"a3":0.0012,"b1":0.0007,"b2":0.0009,"b3":0.0016},
{"f":15.25,"a1":0.001,"a2":0.0014,"a3":0.0014,"b1":0.0011,"b2":0.0011,"b3":0.0014},
{"f":15.35,"a1":0.0008,"a2":0.001,"a3":0.0018,"b1":0.0007,"b2":0.0005,"b3":0.0018},
{"f":15.45,"a1":0.0014,"a2":0.0012,"a3":0.0012,"b1":0.0009,"b2":0.0007,"b3":0.0012},
{"f":15.55,"a1":0.001,"a2":0.0008,"a3":0.0016,"b1":0.0011,"b2":0.0009,"b3":0.0016},
{"f":15.65,"a1":0.0008,"a2":0.001,"a3":0.0014,"b1":0.0007,"b2":0.0007,"b3":0.0014},
{"f":15.75,"a1":0.0012,"a2":0.0012,"a3":0.0012,"b1":0.0005,"b2":0.0005,"b3":0.0012},
{"f":15.85,"a1":0.001,"a2":0.0008,"a3":0.0018,"b1":0.0009,"b2":0.0009,"b3":0.0016},
{"f":15.95,"a1":0.0008,"a2":0.0014,"a3":0.0014,"b1":0.0007,"b2":0.0007,"b3":0.001},
{"f":16.05,"a1":0.0011,"a2":0.001,"a3":0.0012,"b1":0.0005,"b2":0.0005,"b3":0.0014},
{"f":16.15,"a1":0.0007,"a2":0.0012,"a3":0.0016,"b1":0.0009,"b2":0.0009,"b3":0.0016},
{"f":16.25,"a1":0.0009,"a2":0.0008,"a3":0.0014,"b1":0.0007,"b2":0.0007,"b3":0.0012},
{"f":16.35,"a1":0.0007,"a2":0.0012,"a3":0.0012,"b1":0.0011,"b2":0.0011,"b3":0.0016},
{"f":16.45,"a1":0.0011,"a2":0.001,"a3":0.0018,"b1":0.0007,"b2":0.0007,"b3":0.0014},
{"f":16.55,"a1":0.0009,"a2":0.0008,"a3":0.0012,"b1":0.0009,"b2":0.0009,"b3":0.0012},
{"f":16.65,"a1":0.0007,"a2":0.0012,"a3":0.0016,"b1":0.0007,"b2":0.0009,"b3":0.0016},
{"f":16.75,"a1":0.0005,"a2":0.001,"a3":0.0014,"b1":0.0005,"b2":0.0007,"b3":0.001},
{"f":16.85,"a1":0.0009,"a2":0.0008,"a3":0.0012,"b1":0.0009,"b2":0.0005,"b3":0.0014},
{"f":16.95,"a1":0.0011,"a2":0.0012,"a3":0.0016,"b1":0.0011,"b2":0.0009,"b3":0.0016},
{"f":17.05,"a1":0.0007,"a2":0.0008,"a3":0.0014,"b1":0.0007,"b2":0.0009,"b3":0.0012},
{"f":17.15,"a1":0.0011,"a2":0.001,"a3":0.0012,"b1":0.0009,"b2":0.0007,"b3":0.0014},
{"f":17.25,"a1":0.0007,"a2":0.0012,"a3":0.0016,"b1":0.0005,"b2":0.0009,"b3":0.0016},
{"f":17.35,"a1":0.0009,"a2":0.0008,"a3":0.0014,"b1":0.0011,"b2":0.0007,"b3":0.0012},
{"f":17.45,"a1":0.0013,"a2":0.001,"a3":0.0012,"b1":0.0007,"b2":0.0005,"b3":0.0014},
{"f":17.55,"a1":0.0007,"a2":0.0012,"a3":0.0018,"b1":0.0005,"b2":0.0009,"b3":0.001},
{"f":17.65,"a1":0.0009,"a2":0.0008,"a3":0.0014,"b1":0.0009,"b2":0.0007,"b3":0.0016},
{"f":17.75,"a1":0.0005,"a2":0.001,"a3":0.0012,"b1":0.0007,"b2":0.0005,"b3":0.0012},
{"f":17.85,"a1":0.0011,"a2":0.0012,"a3":0.0016,"b1":0.0011,"b2":0.0009,"b3":0.0014},
{"f":17.95,"a1":0.0007,"a2":0.001,"a3":0.0014,"b1":0.0007,"b2":0.0007,"b3":0.001}
]},
"data":{"name":"pg"},
"bounds":"flush",
"columns":3,
"spacing":{"row":53,"column":87.5},
"concat":[
{"width":268,"height":319,"resolve":{"axis":{"x":"independent","y":"independent"}},"layer":[
 {"mark":{"type":"line"},"encoding":{
  "x":{"field":"f","type":"quantitative","scale":{"domain":[0,18],"nice":false,"zero":false},"axis":{"orient":"bottom","values":[0,1,2,3,4,5,6,7,8,9,10,11,12,13,14,15,16,17],"labelExpr":"datum.value % 5 == 0 ? datum.label : ''","title":null}},
  "y":{"field":"a1","type":"quantitative","scale":{"domain":[0,0.0065],"nice":false},"axis":{"orient":"left","values":[0,0.002,0.004,0.006],"labelExpr":"datum.value == 0 ? '0' : replace(format(datum.value, '.3~f'), '0.', '.')","title":"Amplitude [mag]","titleFontSize":30,"titleAngle":270,"titleAlign":"center","titleBaseline":"alphabetic","titleX":-101.5,"titleY":372}}}},
 {"data":{"values":[{}]},"mark":{"type":"text","text":"Johnson V","align":"left","baseline":"alphabetic"},"encoding":{
  "x":{"datum":2.06,"type":"quantitative","axis":null},
  "y":{"datum":0.00587,"type":"quantitative","axis":{"orient":"left","values":[0,0.0005,0.001,0.0015,0.002,0.0025,0.003,0.0035,0.004,0.0045,0.005,0.0055,0.006,0.0065],"labels":false,"tickSize":-7,"title":null}}}},
 {"data":{"values":[{}]},"mark":{"type":"text","text":"13.362","align":"left","baseline":"alphabetic"},"encoding":{
  "x":{"datum":2.06,"type":"quantitative","axis":null},
  "y":{"datum":0.00535,"type":"quantitative","axis":null}}}
]},
{"width":268,"height":319,"resolve":{"axis":{"x":"independent","y":"independent"}},"layer":[
 {"mark":{"type":"line"},"encoding":{
  "x":{"field":"f","type":"quantitative","scale":{"domain":[0,18],"nice":false,"zero":false},"axis":{"orient":"bottom","values":[0,1,2,3,4,5,6,7,8,9,10,11,12,13,14,15,16,17],"labelExpr":"datum.value % 5 == 0 ? datum.label : ''","title":null}},
  "y":{"field":"a2","type":"quantitative","scale":{"domain":[0,0.0075],"nice":false},"axis":{"orient":"left","values":[0,0.002,0.004,0.006],"labelExpr":"datum.value == 0 ? '0' : replace(format(datum.value, '.3~f'), '0.', '.')","title":null}}}},
 {"data":{"values":[{}]},"mark":{"type":"text","text":"Stromgren y","align":"left","baseline":"alphabetic"},"encoding":{
  "x":{"datum":2.03,"type":"quantitative","axis":null},
  "y":{"datum":0.00682,"type":"quantitative","axis":{"orient":"left","values":[0,0.0005,0.001,0.0015,0.002,0.0025,0.003,0.0035,0.004,0.0045,0.005,0.0055,0.006,0.0065,0.007,0.0075],"labels":false,"tickSize":-7,"title":null}}}},
 {"data":{"values":[{}]},"mark":{"type":"text","text":"13.362","align":"left","baseline":"alphabetic"},"encoding":{
  "x":{"datum":2.08,"type":"quantitative","axis":null},
  "y":{"datum":0.00603,"type":"quantitative","axis":null}}}
]},
{"width":268,"height":319,"resolve":{"axis":{"x":"independent","y":"independent"}},"layer":[
 {"mark":{"type":"line"},"encoding":{
  "x":{"field":"f","type":"quantitative","scale":{"domain":[0,18],"nice":false,"zero":false},"axis":{"orient":"bottom","values":[0,1,2,3,4,5,6,7,8,9,10,11,12,13,14,15,16,17],"labelExpr":"datum.value % 5 == 0 ? datum.label : ''","title":null}},
  "y":{"field":"a3","type":"quantitative","scale":{"domain":[0,0.0105],"nice":false},"axis":{"orient":"left","values":[0,0.002,0.004,0.006,0.008,0.01],"labelExpr":"datum.value == 0 ? '0' : replace(format(datum.value, '.3~f'), '0.', '.')","title":null}}}},
 {"data":{"values":[{}]},"mark":{"type":"text","text":"Stromgren v","align":"left","baseline":"alphabetic"},"encoding":{
  "x":{"datum":2.03,"type":"quantitative","axis":null},
  "y":{"datum":0.00944,"type":"quantitative","axis":{"orient":"left","values":[0,0.0005,0.001,0.0015,0.002,0.0025,0.003,0.0035,0.004,0.0045,0.005,0.0055,0.006,0.0065,0.007,0.0075,0.008,0.0085,0.009,0.0095,0.01,0.0105],"labels":false,"tickSize":-7,"title":null}}}},
 {"data":{"values":[{}]},"mark":{"type":"text","text":"13.360","align":"left","baseline":"alphabetic"},"encoding":{
  "x":{"datum":2.03,"type":"quantitative","axis":null},
  "y":{"datum":0.00848,"type":"quantitative","axis":null}}}
]},
{"width":268,"height":319,"resolve":{"axis":{"x":"independent","y":"independent"}},"layer":[
 {"mark":{"type":"line"},"encoding":{
  "x":{"field":"f","type":"quantitative","scale":{"domain":[0,18],"nice":false,"zero":false},"axis":{"orient":"bottom","values":[0,1,2,3,4,5,6,7,8,9,10,11,12,13,14,15,16,17],"labelExpr":"datum.value % 5 == 0 ? datum.label : ''","title":null}},
  "y":{"field":"b1","type":"quantitative","scale":{"domain":[0,0.0065],"nice":false},"axis":{"orient":"left","values":[0,0.002,0.004,0.006],"labelExpr":"datum.value == 0 ? '0' : replace(format(datum.value, '.3~f'), '0.', '.')","title":null}}}},
 {"data":{"values":[{}]},"mark":{"type":"text","text":"10.201","align":"right","baseline":"alphabetic"},"encoding":{
  "x":{"datum":16.28,"type":"quantitative","axis":null},
  "y":{"datum":0.00582,"type":"quantitative","axis":{"orient":"left","values":[0,0.0005,0.001,0.0015,0.002,0.0025,0.003,0.0035,0.004,0.0045,0.005,0.0055,0.006,0.0065],"labels":false,"tickSize":-7,"title":null}}}},
 {"data":{"values":[{}]},"mark":{"type":"text","text":"6.493*","align":"left","baseline":"alphabetic"},"encoding":{
  "x":{"datum":2.06,"type":"quantitative","axis":null},
  "y":{"datum":0.00534,"type":"quantitative","axis":null}}}
]},
{"width":268,"height":319,"resolve":{"axis":{"x":"independent","y":"independent"}},"layer":[
 {"mark":{"type":"line"},"encoding":{
  "x":{"field":"f","type":"quantitative","scale":{"domain":[0,18],"nice":false,"zero":false},"axis":{"orient":"bottom","values":[0,1,2,3,4,5,6,7,8,9,10,11,12,13,14,15,16,17],"labelExpr":"datum.value % 5 == 0 ? datum.label : ''","title":"Frequency [d⁻¹]","titleFontSize":27,"titleAlign":"center","titleBaseline":"alphabetic","titleX":143,"titleY":79}},
  "y":{"field":"b2","type":"quantitative","scale":{"domain":[0,0.006],"nice":false},"axis":{"orient":"left","values":[0,0.002,0.004,0.006],"labelExpr":"datum.value == 0 ? '0' : replace(format(datum.value, '.3~f'), '0.', '.')","title":null}}}},
 {"data":{"values":[{}]},"mark":{"type":"text","text":"5.267","align":"left","baseline":"alphabetic"},"encoding":{
  "x":{"datum":2.0,"type":"quantitative","axis":null},
  "y":{"datum":0.00534,"type":"quantitative","axis":{"orient":"left","values":[0,0.0005,0.001,0.0015,0.002,0.0025,0.003,0.0035,0.004,0.0045,0.005,0.0055,0.006],"labels":false,"tickSize":-7,"title":null}}}},
 {"data":{"values":[{}]},"mark":{"type":"text","text":"10.429*","align":"right","baseline":"alphabetic"},"encoding":{
  "x":{"datum":16.69,"type":"quantitative","axis":null},
  "y":{"datum":0.00484,"type":"quantitative","axis":null}}}
]},
{"width":268,"height":319,"resolve":{"axis":{"x":"independent","y":"independent"}},"layer":[
 {"mark":{"type":"line"},"encoding":{
  "x":{"field":"f","type":"quantitative","scale":{"domain":[0,18],"nice":false,"zero":false},"axis":{"orient":"bottom","values":[0,1,2,3,4,5,6,7,8,9,10,11,12,13,14,15,16,17],"labelExpr":"datum.value % 5 == 0 ? datum.label : ''","title":null}},
  "y":{"field":"b3","type":"quantitative","scale":{"domain":[0,0.006],"nice":false},"axis":{"orient":"left","values":[0,0.002,0.004,0.006],"labelExpr":"datum.value == 0 ? '0' : replace(format(datum.value, '.3~f'), '0.', '.')","title":null}}}},
 {"data":{"values":[{}]},"mark":{"type":"text","text":"5.478","align":"left","baseline":"alphabetic"},"encoding":{
  "x":{"datum":2.03,"type":"quantitative","axis":null},
  "y":{"datum":0.00534,"type":"quantitative","axis":{"orient":"left","values":[0,0.0005,0.001,0.0015,0.002,0.0025,0.003,0.0035,0.004,0.0045,0.005,0.0055,0.006],"labels":false,"tickSize":-7,"title":null}}}},
 {"data":{"values":[{}]},"mark":{"type":"text","text":"10.967*","align":"right","baseline":"alphabetic"},"encoding":{
  "x":{"datum":16.74,"type":"quantitative","axis":null},
  "y":{"datum":0.00484,"type":"quantitative","axis":null}}}
]}
]
}
